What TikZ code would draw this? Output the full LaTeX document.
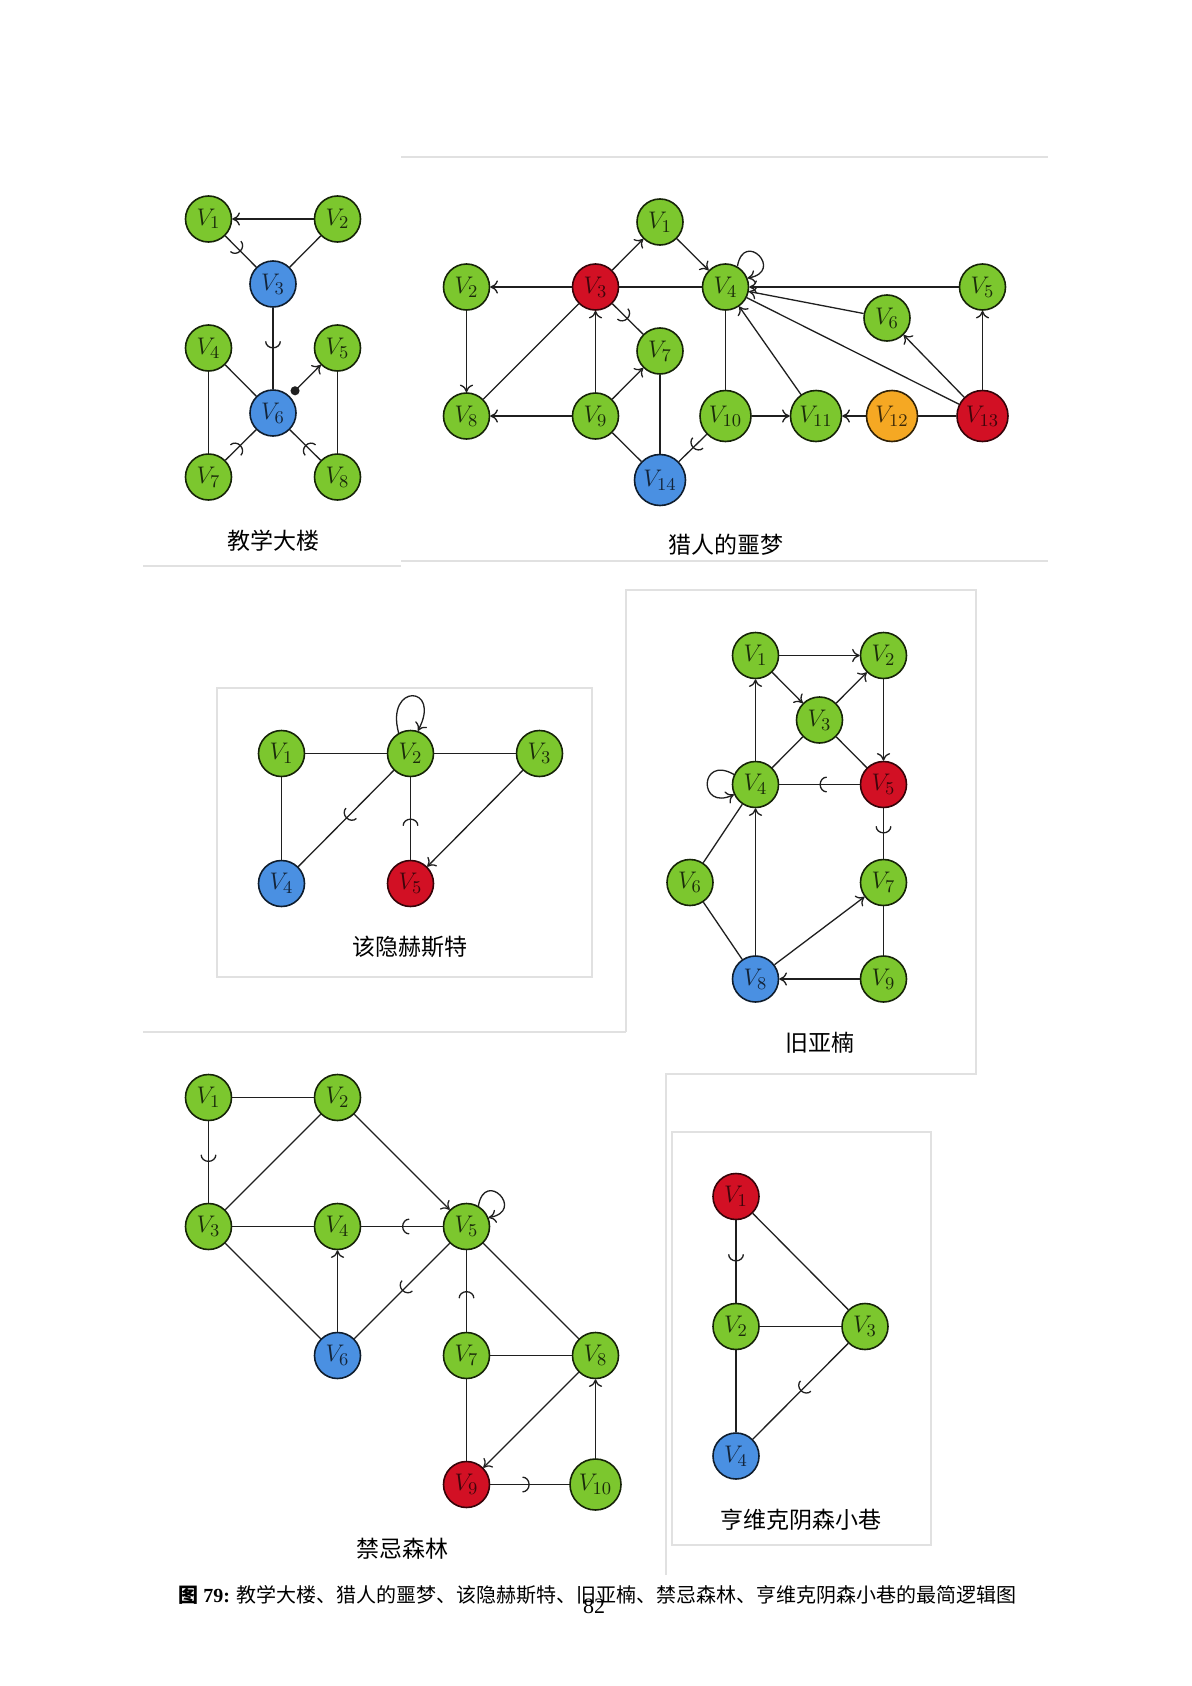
\documentclass[tikz,border=0pt]{standalone}
\usepackage{fontspec}
\newfontfamily\cjk{Noto Sans CJK SC}
\newfontfamily\tms{Liberation Serif}
\usetikzlibrary{arrows.meta,decorations.markings}
\definecolor{vgreen}{RGB}{124,199,46}
\definecolor{vred}{RGB}{210,16,36}
\definecolor{vblue}{RGB}{74,144,226}
\definecolor{vorange}{RGB}{245,168,35}
\definecolor{framegrey}{RGB}{225,225,225}
\tikzset{
  vx/.style={circle, line width=0.8pt, minimum size=23pt, inner sep=0pt, font=\fontsize{13}{15}\selectfont},
  gn/.style={vx, fill=vgreen, draw=vgreen!18!black, text=vgreen!22!black},
  rd/.style={vx, fill=vred, draw=vred!25!black, text=vred!30!black},
  bl/.style={vx, fill=vblue, draw=vblue!20!black, text=vblue!25!black},
  og/.style={vx, fill=vorange, draw=vorange!20!black, text=vorange!25!black},
  big/.style={minimum size=25.5pt},
  e/.style={line width=0.65pt, draw=black!88},
  ar/.style={e, -{To[length=3.8pt,width=6.6pt]}},
  hb/.style={e, postaction={decorate}, decoration={markings, mark=at position 0.5 with {\arrow[line width=0.65pt]{Arc Barb[width=8pt,length=3.6pt]}}}},
  frame/.style={draw=framegrey, line width=0.6pt},
  lab/.style={font=\cjk\fontsize{11.5}{13}\selectfont},
}
\begin{document}
\begin{tikzpicture}[x=0.5pt,y=-0.5pt]
\fill[white] (0,0) rectangle (1192,1686);
\useasboundingbox (0,0) rectangle (1192,1686);
% screenshot frames
\draw[frame] (401,157) -- (1048,157);
\draw[frame] (143,566) -- (401,566);
\draw[frame] (401,561) -- (1048,561);
\draw[frame] (217,688) rectangle (592,977);
\draw[frame] (626,1032) -- (626,590) -- (976,590) -- (976,1074) -- (666,1074) -- (666,1575);
\draw[frame] (143,1032) -- (626,1032);
\draw[frame] (672,1132) rectangle (931,1545);

% ---------- 教学大楼 ----------
\node[gn] (a1) at (208.5,219) {$V_1$};
\node[gn] (a2) at (337.5,219) {$V_2$};
\node[bl] (a3) at (273,284) {$V_3$};
\node[gn] (a4) at (208.5,348) {$V_4$};
\node[gn] (a5) at (337.5,348) {$V_5$};
\node[bl] (a6) at (273,413) {$V_6$};
\node[gn] (a7) at (208.5,477) {$V_7$};
\node[gn] (a8) at (337.5,477) {$V_8$};
\node[lab] (la) at (273,541) {教学大楼};
\draw[ar] (a2) -- (a1);
\draw[e] (a2) -- (a3);
\draw[hb] (a1) -- (a3);
\draw[hb] (a3) -- (a6);
\draw[e] (a4) -- (a6);
\draw[e] (a4) -- (a7);
\draw[e] (a5) -- (a8);
\draw[hb] (a7) -- (a6);
\draw[hb] (a8) -- (a6);
\draw[e, {Circle[length=4.5pt]}-{To[length=3.8pt,width=6.6pt]}, shorten <=1.5pt] (a6) -- (a5);

% ---------- 猎人的噩梦 ----------
\node[gn] (b1) at (660,222) {$V_1$};
\node[gn] (b2) at (466.5,287) {$V_2$};
\node[rd] (b3) at (595.5,287) {$V_3$};
\node[gn] (b4) at (725.5,287) {$V_4$};
\node[gn] (b5) at (982.5,287) {$V_5$};
\node[gn] (b6) at (887,318) {$V_6$};
\node[gn] (b7) at (660,351) {$V_7$};
\node[gn] (b8) at (466.5,416) {$V_8$};
\node[gn] (b9) at (595.5,416) {$V_9$};
\node[gn,big] (b10) at (725.5,416) {$V_{10}$};
\node[gn,big] (b11) at (816,416) {$V_{11}$};
\node[og,big] (b12) at (892,416) {$V_{12}$};
\node[rd,big] (b13) at (982.5,416) {$V_{13}$};
\node[bl,big] (b14) at (660,480) {$V_{14}$};
\node[lab] (lb) at (726,545) {猎人的噩梦};
\draw[ar] (b3) -- (b1);
\draw[ar] (b1) -- (b4);
\draw[ar] (b3) -- (b2);
\draw[ar] (b2) -- (b8);
\draw[ar] (b9) -- (b3);
\draw[ar] (b9) -- (b8);
\draw[ar] (b9) -- (b7);
\draw[ar] (b10) -- (b11);
\draw[ar] (b11) -- (b4);
\draw[ar] (b5) -- (b4);
\draw[ar] (b6) -- (b4);
\draw[ar] (b13) -- (b6);
\draw[ar] (b13) -- (b5);
\draw[ar] (b12) -- (b11);
\draw[e] (b3) -- (b4);
\draw[e] (b8) -- (b3);
\draw[e] (b7) -- (b14);
\draw[e] (b9) -- (b14);
\draw[e] (b10) -- (b4);
\draw[e] (b12) -- (b13);
\draw[e] (b13) -- (b4);
\draw[hb] (b3) -- (b7);
\draw[hb] (b10) -- (b14);
\draw[ar] (b4.60) .. controls +(80:19pt) and +(10:19pt) .. (b4.22);

% ---------- 该隐赫斯特 ----------
\node[gn] (c1) at (281.5,753.5) {$V_1$};
\node[gn] (c2) at (410.5,753.5) {$V_2$};
\node[gn] (c3) at (539.5,753.5) {$V_3$};
\node[bl] (c4) at (281.5,883.5) {$V_4$};
\node[rd] (c5) at (410.5,883.5) {$V_5$};
\node[lab] (lc) at (410,947) {该隐赫斯特};
\draw[e] (c1) -- (c2);
\draw[e] (c2) -- (c3);
\draw[e] (c1) -- (c4);
\draw[hb] (c2) -- (c4);
\draw[hb] (c5) -- (c2);
\draw[ar] (c3) -- (c5);
\draw[ar] (c2.120) .. controls +(105:26pt) and +(62:26pt) .. (c2.72);

% ---------- 旧亚楠 ----------
\node[gn] (d1) at (755.5,655.5) {$V_1$};
\node[gn] (d2) at (883.5,655.5) {$V_2$};
\node[gn] (d3) at (819.5,720) {$V_3$};
\node[gn] (d4) at (755.5,784.5) {$V_4$};
\node[rd] (d5) at (883.5,784.5) {$V_5$};
\node[gn] (d6) at (690,882.5) {$V_6$};
\node[gn] (d7) at (883.5,882.5) {$V_7$};
\node[bl] (d8) at (755.5,979) {$V_8$};
\node[gn] (d9) at (883.5,979) {$V_9$};
\node[lab] (ld) at (820,1043) {旧亚楠};
\draw[ar] (d1) -- (d2);
\draw[ar] (d1) -- (d3);
\draw[ar] (d3) -- (d2);
\draw[ar] (d2) -- (d5);
\draw[ar] (d4) -- (d1);
\draw[ar] (d8) -- (d4);
\draw[ar] (d8) -- (d7);
\draw[ar] (d9) -- (d8);
\draw[e] (d3) -- (d5);
\draw[e] (d3) -- (d4);
\draw[e] (d6) -- (d4);
\draw[e] (d6) -- (d8);
\draw[e] (d7) -- (d9);
\draw[hb] (d5) -- (d4);
\draw[hb] (d5) -- (d7);
\draw[ar] (d4.155) .. controls +(150:20pt) and +(205:20pt) .. (d4.205);

% ---------- 禁忌森林 ----------
\node[gn] (f1) at (208.5,1097.5) {$V_1$};
\node[gn] (f2) at (337.5,1097.5) {$V_2$};
\node[gn] (f3) at (208.5,1226.5) {$V_3$};
\node[gn] (f4) at (337.5,1226.5) {$V_4$};
\node[gn] (f5) at (466.5,1226.5) {$V_5$};
\node[bl] (f6) at (337.5,1355.5) {$V_6$};
\node[gn] (f7) at (466.5,1355.5) {$V_7$};
\node[gn] (f8) at (595.5,1355.5) {$V_8$};
\node[rd] (f9) at (466.5,1484.5) {$V_9$};
\node[gn,big] (f10) at (595.5,1484.5) {$V_{10}$};
\node[lab] (lf) at (402,1549) {禁忌森林};
\draw[e] (f1) -- (f2);
\draw[e] (f2) -- (f3);
\draw[e] (f3) -- (f4);
\draw[e] (f3) -- (f6);
\draw[e] (f5) -- (f8);
\draw[e] (f7) -- (f8);
\draw[e] (f7) -- (f9);
\draw[ar] (f2) -- (f5);
\draw[ar] (f6) -- (f4);
\draw[ar] (f8) -- (f9);
\draw[ar] (f10) -- (f8);
\draw[hb] (f1) -- (f3);
\draw[hb] (f5) -- (f4);
\draw[hb] (f5) -- (f6);
\draw[hb] (f7) -- (f5);
\draw[hb] (f9) -- (f10);
\draw[ar] (f5.60) .. controls +(80:19pt) and +(10:19pt) .. (f5.22);

% ---------- 亨维克阴森小巷 ----------
\node[rd] (h1) at (736,1196.5) {$V_1$};
\node[gn] (h2) at (736,1326.5) {$V_2$};
\node[gn] (h3) at (865,1326.5) {$V_3$};
\node[bl] (h4) at (736,1456) {$V_4$};
\node[lab] (lh) at (801,1520) {亨维克阴森小巷};
\draw[hb] (h1) -- (h2);
\draw[hb] (h3) -- (h4);
\draw[e] (h1) -- (h3);
\draw[e] (h2) -- (h3);
\draw[e] (h2) -- (h4);

% ---------- caption ----------
\node[anchor=west, inner sep=0pt, font=\fontsize{10}{12}\selectfont] (cap) at (178,1595)
  {{\cjk\bfseries 图}{\tms\bfseries\ 79:}\ {\cjk 教学大楼、猎人的噩梦、该隐赫斯特、旧亚楠、禁忌森林、亨维克阴森小巷的最简逻辑图}};
\node[font=\tms\fontsize{11}{12}\selectfont, inner sep=0pt] (pg) at (594,1606) {82};
\end{tikzpicture}
\end{document}
